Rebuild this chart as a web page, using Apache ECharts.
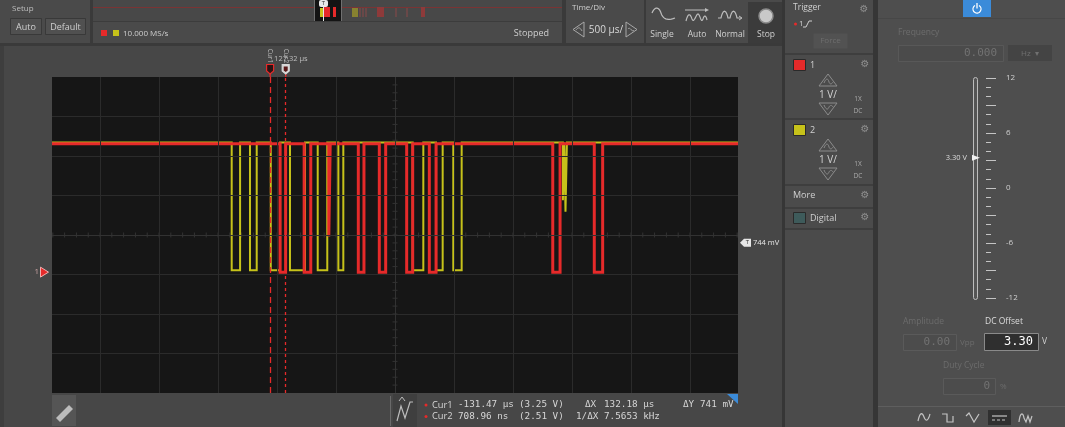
<!DOCTYPE html>
<html><head><meta charset="utf-8">
<script src="https://cdn.jsdelivr.net/npm/echarts@6/dist/echarts.min.js"></script>
<style>html,body{margin:0;padding:0;background:#474747;}#c{width:1065px;height:427px;}</style>
</head><body><div id="c"></div>
<script>
// ---- data (time in µs relative to trigger, voltage in V) ----
const X_MIN = -1980, X_MAX = 3834;          // visible time window
const Y_MIN = -3.06, Y_MAX = 4.94;          // visible voltage window (1 V/div)
const X_CENTER = 927, Y_CENTER = 0.94;      // screen centre
const T_DIV = 500, V_DIV = 1;               // 500 µs/div, 1 V/div
const CH1_HIGH = 3.25, CH1_LOW = 0.0;
const CH2_HIGH = 3.28, CH2_LOW = 0.05;
// low pulses: [start µs, end µs, (optional) low level V]
const ch1Pulses = [[-47,0],[157,213],[366,378,0.9],[616,664],[794,848],[1026,1077],[1218,1275],[2264,2326],[2616,2687]];
const ch2Pulses = [[-457,-386],[-302,-245],[-126,-47],[37,164],[272,353],[447,489],[1077,1167],[1275,1331],[1421,1492],[2350,2362,1.82],[2372,2384,1.53]];
const cursorTimes = [-131.47, 0.70896];
const triggerLevel = 0.744;
const dcOffset = 3.30;
const sliderTicks = { min: -12, max: 12, major: 3 };
const readoutRow1 = ['Cur1', '-131.47 µs', '(3.25 V)', 'ΔX', '132.18 µs', 'ΔY', '741 mV'];
const readoutRow2 = ['Cur2', '708.96 ns', '(2.51 V)', '1/ΔX', '7.5653 kHz'];

function stepData(pulses, high, low) {
  const d = [[X_MIN, high]];
  for (const p of pulses) {
    const lo = p.length > 2 ? p[2] : low;
    d.push([p[0], high], [p[0], lo], [p[1], lo], [p[1], high]);
  }
  d.push([X_MAX, high]);
  return d;
}
const vLines = [], hLines = [], hTicks = [], vTicks = [];
for (let k = -5; k <= 5; k++) vLines.push(X_CENTER + k * T_DIV);
for (let k = -3; k <= 3; k++) hLines.push(Y_CENTER + k * V_DIV);
for (let k = Math.ceil((X_MIN - X_CENTER) / (T_DIV / 5)); k <= Math.floor((X_MAX - X_CENTER) / (T_DIV / 5)); k++) hTicks.push([X_CENTER + k * T_DIV / 5, Y_CENTER]);
for (let k = -19; k <= 19; k++) vTicks.push([X_CENTER, Y_CENTER + k * V_DIV / 5]);

const RED = '#e62a2a', YEL = '#c6c21a';
const chart = echarts.init(document.getElementById('c'), null, {renderer: 'canvas'});
const ml = (arr, axis, color) => arr.map(v => ({[axis]: v, lineStyle: {color: color, width: 1, type: 'solid'}}));

chart.setOption({
  backgroundColor: '#474747',
  animation: false,
  grid: [
    {left: 52, top: 77, width: 686, height: 316, show: true, backgroundColor: '#161616', borderWidth: 0},
    {left: 986, top: 78, width: 1, height: 220, show: false}
  ],
  xAxis: [
    {gridIndex: 0, type: 'value', min: X_MIN, max: X_MAX, show: false},
    {gridIndex: 1, type: 'value', show: false}
  ],
  yAxis: [
    {gridIndex: 0, type: 'value', min: Y_MIN, max: Y_MAX, show: false},
    {gridIndex: 1, type: 'value', position: 'right', min: sliderTicks.min, max: sliderTicks.max, interval: sliderTicks.major,
     axisLine: {show: false}, splitLine: {show: false},
     axisTick: {show: true, length: 10, lineStyle: {color: '#c4c4c4', width: 1}},
     minorTick: {show: true, splitNumber: 3, length: 5, lineStyle: {color: '#c4c4c4', width: 1}},
     axisLabel: {margin: 19, color: '#d0d0d0', fontSize: 8, fontFamily: 'Open Sans',
       formatter: v => (v % 6 === 0 ? String(v) : '')}}
  ],
  series: [
    {type: 'scatter', xAxisIndex: 0, yAxisIndex: 0, data: hTicks, symbol: 'rect', symbolSize: [1, 5], silent: true, z: 1,
     itemStyle: {color: '#3a3a3a'},
     markLine: {silent: true, symbol: ['none', 'none'], label: {show: false}, animation: false,
       data: ml(vLines.filter(v => v !== X_CENTER), 'xAxis', '#2b2b2b')
         .concat(ml(hLines.filter(v => v !== Y_CENTER), 'yAxis', '#2b2b2b'))
         .concat(ml([X_CENTER], 'xAxis', '#323232')).concat(ml([Y_CENTER], 'yAxis', '#323232'))}},
    {type: 'scatter', xAxisIndex: 0, yAxisIndex: 0, data: vTicks, symbol: 'rect', symbolSize: [5, 1], silent: true, z: 1,
     itemStyle: {color: '#3a3a3a'}},
    {type: 'line', name: 'CH2', xAxisIndex: 0, yAxisIndex: 0, data: stepData(ch2Pulses, CH2_HIGH, CH2_LOW),
     showSymbol: false, symbol: 'none', silent: true, z: 3, lineStyle: {color: YEL, width: 2, join: 'miter'}},
    {type: 'line', name: 'CH1', xAxisIndex: 0, yAxisIndex: 0, data: stepData(ch1Pulses, CH1_HIGH, CH1_LOW),
     showSymbol: false, symbol: 'none', silent: true, z: 4, lineStyle: {color: RED, width: 3, join: 'miter'},
     markLine: {silent: true, symbol: ['none', 'none'], label: {show: false}, animation: false,
       data: [
         {xAxis: cursorTimes[0], lineStyle: {color: RED, width: 1.3, type: [6, 4]}},
         {xAxis: cursorTimes[1], lineStyle: {color: RED, width: 1.3, type: [3, 3]}}
       ]}}
  ]
});

// ---- chrome drawn with graphic elements ----
const FONT = '"Open Sans", "Noto Sans", sans-serif';
const MONO = '"DejaVu Sans Mono", monospace';
const G = [];
function R(x, y, w, h, fill, stroke, z, r) { G.push({type: 'rect', silent: true, z: z || 0, shape: {x, y, width: w, height: h, r: r || 0}, style: {fill: fill || 'none', stroke: stroke || 'none', lineWidth: 1}}); }
function T(text, x, y, size, fill, align, font, z, extra) {
  const e = {type: 'text', silent: true, z: z || 5, x, y,
    style: {text, font: (size || 9) + 'px ' + (font || FONT), fill: fill || '#d2d2d2', textAlign: align || 'left', align: align || 'left', textVerticalAlign: 'middle', verticalAlign: 'middle'}};
  if (extra) Object.assign(e, extra);
  G.push(e);
}
// simple path (M/L/C/Z) -> polyline / polygon elements
function P(d, stroke, fill, z, lw, dash) {
  const tok = d.replace(/([MLCZ])/g, ' $1 ').replace(/,/g, ' ').trim().split(/\s+/);
  let i = 0, cur = null, pts = [], subs = [];
  const flush = (closed) => { if (pts.length > 1) subs.push({pts, closed}); pts = []; };
  while (i < tok.length) {
    const c = tok[i++];
    if (c === 'M') { flush(false); cur = [+tok[i++], +tok[i++]]; pts.push(cur); }
    else if (c === 'L') { cur = [+tok[i++], +tok[i++]]; pts.push(cur); }
    else if (c === 'C') {
      const p1 = [+tok[i++], +tok[i++]], p2 = [+tok[i++], +tok[i++]], p3 = [+tok[i++], +tok[i++]], p0 = cur;
      for (let s = 1; s <= 12; s++) { const t = s / 12, u = 1 - t;
        pts.push([u*u*u*p0[0] + 3*u*u*t*p1[0] + 3*u*t*t*p2[0] + t*t*t*p3[0], u*u*u*p0[1] + 3*u*u*t*p1[1] + 3*u*t*t*p2[1] + t*t*t*p3[1]]); }
      cur = p3;
    } else if (c === 'Z') { flush(true); }
  }
  flush(false);
  subs.forEach(sp => G.push({type: sp.closed ? 'polygon' : 'polyline', silent: true, z: z || 5, shape: {points: sp.pts},
    style: {stroke: stroke || 'none', fill: sp.closed ? (fill || 'none') : 'none', lineWidth: lw || 1, lineDash: dash || null}}));
}
function L(x1, y1, x2, y2, c, w, z) { G.push({type: 'line', silent: true, z: z || 1, shape: {x1, y1, x2, y2}, style: {stroke: c, lineWidth: w || 1}}); }
function gear(x, y) { T('⚙', x, y, 10, '#8e8e8e', 'center', '"DejaVu Sans"'); }

// top bar
R(0, 0, 782, 43, '#4a4a4a', null, 0);
R(0, 43, 782, 3, '#3a3a3a', null, 0);
R(0, 46, 4, 381, '#3e3e3e', null, 0);
T('Setup', 12, 9, 8, '#bdbdbd');
R(10.5, 18.5, 31, 16, '#505050', '#393939', 1); T('Auto', 26, 27, 9, '#d0d0d0', 'center');
R(45.5, 18.5, 40, 16, '#505050', '#393939', 1); T('Default', 65.5, 27, 9, '#d0d0d0', 'center');
R(90, 0, 3, 43, '#3a3a3a', null, 1);
// overview strip
R(93, 0, 469, 21, '#484848', null, 1);
L(93, 21.5, 562, 21.5, '#3c3c3c', 1, 1);
L(93, 7.5, 562, 7.5, '#7a3434', 1, 2);
R(314, 0, 28, 21, '#141414', null, 2);
L(314.5, 0, 314.5, 21, '#707070', 1, 3); L(341.5, 0, 341.5, 21, '#707070', 1, 3);
R(320, 8, 5, 9, YEL, null, 3); R(323, 7, 7, 10, RED, null, 4); R(333, 7, 3, 10, RED, null, 4);
L(323.5, 6, 323.5, 21, '#e6e6e6', 1, 5);
R(319, 0, 9, 7, '#e8e8e8', null, 5, 2); T('T', 323.5, 3.5, 6, '#333', 'center');
R(352, 8, 6, 9, '#878230', null, 3);
L(360, 8, 360, 17, '#8a4848', 1, 3); L(363, 8, 363, 17, '#8a4848', 1, 3); L(366, 8, 366, 17, '#8a4848', 1, 3);
R(377, 7, 7, 10, '#8e3a3a', null, 3);
L(396, 8, 396, 17, '#8a4848', 1, 3); L(407, 8, 407, 17, '#8a4848', 1, 3); R(421, 7, 4, 10, '#8e3a3a', null, 3);
R(101, 30, 6, 6, RED, null, 3); R(113, 30, 6, 6, YEL, null, 3);
T('10.000 MS/s', 123, 33.5, 8, '#cfcfcf');
T('Stopped', 549, 33.5, 9, '#cfcfcf', 'right');
R(562, 0, 4, 43, '#3a3a3a', null, 1);
// time/div
T('Time/Div', 572, 8, 8, '#cfcfcf');
P('M584,22 L573,29.5 L584,37 Z', '#a8a8a8'); P('M576,30 C578,27 580,27 582,31', '#a8a8a8');
T('500 µs/', 606, 30, 10, '#d8d8d8', 'center');
P('M626,22 L637,29.5 L626,37 Z', '#a8a8a8'); P('M628,29 C630,26 632,33 634,30', '#a8a8a8');
R(644, 0, 2, 43, '#3a3a3a', null, 1);
// mode buttons
P('M652,13 C655,6 659,7 661,13 C663,19 667,21 675,18', '#bdbdbd', null, 5, 1.2);
T('Single', 662, 35, 8.5, '#d0d0d0', 'center');
P('M685,10 L705,10', '#bdbdbd'); P('M705,8 L709,10 L705,12 Z', null, '#bdbdbd');
P('M686,21 C688,13 690,13 692,19 C694,24 696,14 698,14 C700,14 701,24 703,19 C704,15 706,15 707,20', '#bdbdbd', null, 5, 1.2);
T('Auto', 697, 35, 8.5, '#d0d0d0', 'center');
P('M718,18 L721,18 C723,9 726,9 728,18 L730,18 C732,9 735,9 737,18 L741,18', '#bdbdbd', null, 5, 1.2);
P('M739,16 L742,18 L739,20', '#bdbdbd');
T('Normal', 730, 35, 8.5, '#d0d0d0', 'center');
R(748, 2, 34, 41, '#3b3b3b', null, 1);
G.push({type: 'circle', silent: true, z: 5, shape: {cx: 766, cy: 16, r: 7}, style: {fill: '#c9c9c9', stroke: '#8a8a8a', lineWidth: 1.5}});
T('Stop', 766, 35, 8.5, '#d0d0d0', 'center');

// channel panel
R(782, 0, 3, 427, '#363636', null, 1);
R(785, 0, 88, 427, '#4b4b4b', null, 0);
T('Trigger', 793, 8, 8.5, '#d0d0d0'); gear(864, 9);
G.push({type: 'circle', silent: true, z: 5, shape: {cx: 795.5, cy: 24, r: 1.5}, style: {fill: RED}});
T('1', 799, 24, 8, '#d0d0d0'); P('M803,27 L806,27 L809,21 L812,21', '#cfcfcf');
R(813.5, 33.5, 34, 15, '#525252', null, 2); T('Force', 830.5, 41, 8, '#6e6e6e', 'center');
[53, 118, 184, 207, 228].forEach(y => R(785, y, 88, 2, '#3e3e3e', null, 2));
function chBox(y0, color, num) {
  R(793.5, y0 + 0.5, 12, 11, color, '#2a2a2a', 3); T(num, 810, y0 + 6, 9, '#d0d0d0'); gear(865, y0 + 5);
  P(`M828,${y0+15} L837,${y0+27} L819,${y0+27} Z`, '#8c8c8c');
  P(`M824,${y0+24} C826,${y0+19} 828,${y0+19} 829,${y0+23} C830,${y0+26} 832,${y0+25} 833,${y0+23}`, '#8c8c8c');
  T('1 V/', 828, y0 + 36, 10, '#d2d2d2', 'center');
  P(`M819,${y0+44} L837,${y0+44} L828,${y0+56} Z`, '#8c8c8c');
  P(`M824,${y0+46} C826,${y0+51} 828,${y0+51} 829,${y0+48} C830,${y0+46} 832,${y0+46} 833,${y0+48}`, '#8c8c8c');
  T('1X', 858, y0 + 40, 6.5, '#aaaaaa', 'center'); T('DC', 858, y0 + 52, 6.5, '#aaaaaa', 'center');
}
chBox(59, RED, '1'); chBox(124, YEL, '2');
T('More', 793, 195.5, 9, '#d0d0d0'); gear(865, 195);
R(793.5, 212.5, 12, 11, '#3e5b5b', '#2a2a2a', 3); T('Digital', 810, 218, 9, '#d0d0d0'); gear(865, 217);

// right panel
R(873, 0, 5, 427, '#363636', null, 1);
R(878, 0, 187, 427, '#4e4e4e', null, 0);
L(878, 18.5, 1065, 18.5, '#474747', 1, 1);
R(963, 0, 28, 17, '#3b8bd9', null, 2);
G.push({type: 'arc', silent: true, z: 5, shape: {cx: 977, cy: 9, r: 4, startAngle: -Math.PI / 3, endAngle: Math.PI * 4 / 3, clockwise: true}, style: {stroke: '#ffffff', lineWidth: 1.3, fill: 'none'}});
L(977, 3, 977, 8.5, '#ffffff', 1.3, 5);
T('Frequency', 898, 33, 8.5, '#6c6c6c');
R(898.5, 45.5, 105, 16, '#4b4b4b', '#585858', 2); T('0.000', 997, 53.5, 11, '#727272', 'right', MONO);
R(1008, 45, 44, 16, '#444444', null, 2); T('Hz  ▾', 1030, 53.5, 8, '#707070', 'center');
R(973.5, 77.5, 4, 222, '#555555', '#bdbdbd', 2, 2);
T('Amplitude', 903, 322, 8.5, '#6c6c6c');
T('DC Offset', 985, 322, 8.5, '#dcdcdc');
R(903.5, 334.5, 53, 16, '#4c4c4c', '#5a5a5a', 2); T('0.00', 950, 342.5, 11, '#727272', 'right', MONO); T('Vpp', 960, 342.5, 8, '#6c6c6c');
R(984.5, 333.5, 54, 17, '#2f2f2f', '#8a8a8a', 2); T(dcOffset.toFixed(2), 1033, 342, 12, '#ffffff', 'right', MONO); T('V', 1042, 342, 8.5, '#d0d0d0');
T('Duty Cycle', 943, 366, 8.5, '#6c6c6c');
R(943.5, 378.5, 52, 16, '#4c4c4c', '#5a5a5a', 2); T('0', 990, 386.5, 11, '#727272', 'right', MONO); T('%', 1000, 386.5, 8, '#6c6c6c');
L(878, 406.5, 1065, 406.5, '#5e5e5e', 1, 2);
P('M918,421 C920,412 922,412 924,417 C926,422 928,421 930,414', '#c4c4c4', null, 5, 1.2);
P('M942,414 L947,414 L947,422 L953,422 L953,416', '#c4c4c4', null, 5, 1.2);
P('M966,416 L969,413 L974,422 L979,414', '#c4c4c4', null, 5, 1.2);
R(988, 410, 23, 15, '#303030', null, 3);
L(992, 416, 1007, 416, '#c4c4c4', 1.2, 5);
P('M992,420 L1007,420', '#c4c4c4', null, 5, 1.2, [3, 2]);
P('M1019,422 C1020,412 1023,412 1024,418 L1026,422 L1028,416 L1030,422 L1032,416', '#c4c4c4', null, 5, 1.2);

// bottom bar under plot
R(52, 395, 24, 31, '#555555', null, 2);
P('M56,418 L69,405 L73,409 L60,422 Z', null, '#bcbcbc');
L(390.5, 396, 390.5, 426, '#6a6a6a', 1, 2);
R(393, 394, 24, 33, '#3f3f3f', null, 2);
P('M397,421 L401,406 L405,418 L410,402 L413,402', '#bdbdbd', null, 5, 1.2);
P('M399,401 L402,397 L405,401', '#bdbdbd');
G.push({type: 'circle', silent: true, z: 5, shape: {cx: 426, cy: 405, r: 1.5}, style: {fill: RED}});
G.push({type: 'circle', silent: true, z: 5, shape: {cx: 426, cy: 416.5, r: 1.5}, style: {fill: RED}});
const r1x = [432, 458, 519, 585, 604, 683, 700];
readoutRow1.forEach((s, i) => T(s, r1x[i], 405, 9.3, '#d6d6d6', 'left', i === 0 ? FONT : MONO));
const r2x = [432, 458, 519, 576, 604];
readoutRow2.forEach((s, i) => T(s, r2x[i], 416.5, 9.3, '#d6d6d6', 'left', i === 0 ? FONT : MONO));
P('M727,394 L738,394 L738,404 Z', null, '#3b8bd9');

// overlays positioned through the chart's own scales
const c1 = chart.convertToPixel({xAxisIndex: 0}, cursorTimes[0]);
const c2 = chart.convertToPixel({xAxisIndex: 0}, cursorTimes[1]);
L(c1, 74, c1, 77, RED, 1.3, 6); L(c2, 74, c2, 77, RED, 1.3, 6);
P(`M${c1-3.5},64.5 L${c1+3.5},64.5 L${c1+3.5},71 L${c1},74 L${c1-3.5},71 Z`, RED, '#2a1414', 6, 1.2);
P(`M${c2-3.5},64.5 L${c2+3.5},64.5 L${c2+3.5},71 L${c2},74 L${c2-3.5},71 Z`, '#d8d8d8', '#d8d8d8', 6, 1.2);
P(`M${c2-2},66.5 L${c2+2},66.5 L${c2+2},70.5 L${c2},72 L${c2-2},70.5 Z`, null, '#5a1818', 7);
T('Cur1', c1, 56, 6.5, '#bdbdbd', 'center', FONT, 6, {rotation: -Math.PI / 2});
T('Cur2', c2, 56, 6.5, '#bdbdbd', 'center', FONT, 6, {rotation: -Math.PI / 2});
T('127.32 µs', c1 + 4, 59, 7.5, '#bdbdbd', 'left', FONT, 6);
const yTrig = chart.convertToPixel({yAxisIndex: 0}, triggerLevel);
P(`M740,${yTrig} L744,${yTrig-4} L751,${yTrig-4} L751,${yTrig+4} L744,${yTrig+4} Z`, null, '#e8e8e8', 6);
T('T', 747.5, yTrig, 6, '#333333', 'center', FONT, 7);
T('744 mV', 753, yTrig, 7.5, '#e8e8e8', 'left', FONT, 6);
const yGnd = chart.convertToPixel({yAxisIndex: 0}, 0);
P(`M40.5,${yGnd-5} L48.5,${yGnd} L40.5,${yGnd+5} Z`, '#f2b0b0', RED, 6, 1);
T('1', 39, yGnd, 8, '#c9a3a3', 'right', FONT, 6);
const yOff = chart.convertToPixel({yAxisIndex: 1}, dcOffset);
T(dcOffset.toFixed(2) + ' V', 967, yOff, 7.5, '#dedede', 'right', FONT, 6);
P(`M972,${yOff-3} L980,${yOff} L972,${yOff+3} Z`, null, '#f0f0f0', 6);

chart.setOption({graphic: {elements: G}});
</script>
</body></html>
